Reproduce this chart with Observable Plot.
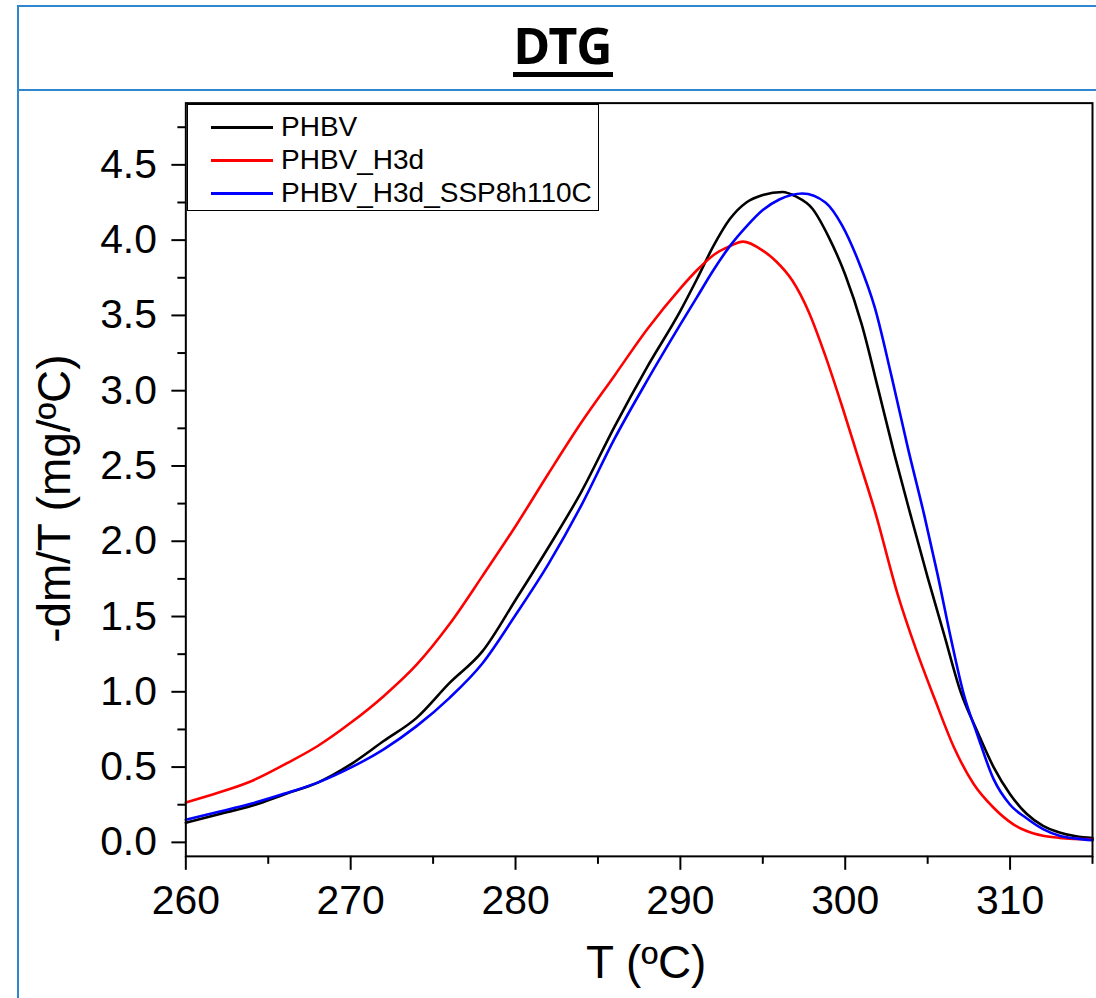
<!DOCTYPE html>
<html>
<head>
<meta charset="utf-8">
<script src="https://cdn.jsdelivr.net/npm/d3@7"></script>
<script src="https://cdn.jsdelivr.net/npm/@observablehq/plot@0.6"></script>
<style>
  html, body { margin: 0; padding: 0; background: #fff; }
  #page { position: relative; width: 1096px; height: 998px; overflow: hidden; font-family: "Liberation Sans", Arial, sans-serif; }
  #titlecell { position: absolute; left: 17px; top: 5px; width: 1200px; height: 82px;
    border-top: 2px solid #2e86d1; border-left: 2px solid #2e86d1; border-bottom: 2px solid #2e86d1; }
  #bodycell { position: absolute; left: 17px; top: 91px; width: 2px; height: 920px; background: #2e86d1; }
  #title { position: absolute; left: 0; width: 1126px; top: 20px; text-align: center;
    font-family: "Noto Sans", "Open Sans", sans-serif; font-weight: 700; font-size: 50px; line-height: 50px;
    letter-spacing: 0px; color: #000; }
  #underline { position: absolute; left: 513px; top: 72px; width: 100px; height: 5px; background: #000; }
  #chart { position: absolute; left: 0; top: 0; }
  #legend { position: absolute; left: 187px; top: 104px; width: 412px; height: 107px; box-sizing: border-box;
    border: 1.5px solid #000; background: #fff; }
  .sw { position: absolute; width: 62px; height: 3px; }
  .lt { position: absolute; font-size: 28px; line-height: 28px; color: #000; white-space: nowrap;
    font-family: "Liberation Sans", Arial, sans-serif; }
</style>
</head>
<body>
<div id="page">
  <div id="titlecell"></div>
  <div id="bodycell"></div>
  <div id="title">DTG</div>
  <div id="underline"></div>
  <div id="chart"></div>
  <div id="legend"></div>
</div>
<script>
// ---- Data ----
const seriesNames = ["PHBV", "PHBV_H3d", "PHBV_H3d_SSP8h110C"];
const seriesColors = ["#000000", "#ff0000", "#0000ff"];

const tPHBV = [260,262,264,266,268,270,272,274,276,278,280,282,284,286,288,290,291,292,293,294,295,296.2,297,298,299,300,301,302,303,304,305,306,307,308,309,310,311,312,313,314,315];
const vPHBV = [0.13,0.187,0.243,0.32,0.397,0.518,0.673,0.827,1.059,1.27,1.61,1.96,2.33,2.76,3.16,3.53,3.74,3.96,4.14,4.25,4.30,4.32,4.29,4.21,4.02,3.77,3.44,3.01,2.57,2.16,1.76,1.38,1.00,0.74,0.50,0.32,0.19,0.11,0.066,0.04,0.028];

const tH3d = [260,262,264,266,268,270,272,274,276,278,280,282,284,286,288,290,291,292,293,293.8,295,295.8,296.8,297.8,298.8,299.8,300.8,301.8,303.2,304.3,305.4,306.6,307.8,309,310.2,311,312,313,315];
const vH3d = [0.265,0.331,0.408,0.518,0.640,0.794,0.971,1.18,1.45,1.77,2.10,2.45,2.79,3.10,3.41,3.68,3.80,3.90,3.96,3.99,3.93,3.86,3.73,3.52,3.23,2.90,2.55,2.20,1.64,1.28,0.96,0.63,0.386,0.23,0.12,0.075,0.044,0.03,0.02];

const tSSP = [260,262,264,266,268,270,272,274,276,278,280,282,284,286,288,290,291,292,293,294,295,296,297.4,298.8,299.8,300.8,301.8,302.8,303.8,304.8,305.6,306.4,307.2,308,309,310,311,312,313,314,315];
const vSSP = [0.15,0.203,0.258,0.324,0.397,0.496,0.618,0.772,0.96,1.19,1.51,1.85,2.24,2.68,3.07,3.44,3.62,3.80,3.96,4.09,4.20,4.27,4.31,4.25,4.10,3.86,3.55,3.10,2.62,2.17,1.78,1.36,0.98,0.72,0.42,0.25,0.16,0.088,0.044,0.025,0.015];

const xTicks = [260, 270, 280, 290, 300, 310];
const xMinorTicks = [265, 275, 285, 295, 305, 315];
const yTicks = [0, 0.5, 1, 1.5, 2, 2.5, 3, 3.5, 4, 4.5];
const yMinorTicks = [0.25, 0.75, 1.25, 1.75, 2.25, 2.75, 3.25, 3.75, 4.25, 4.75];

const xLabel = "T (ºC)";
const yLabel = "-dm/T (mg/ºC)";

// ---- Build table ----
const seriesT = [tPHBV, tH3d, tSSP];
const seriesV = [vPHBV, vH3d, vSSP];
const rows = [];
seriesNames.forEach((name, i) => {
  seriesT[i].forEach((t, j) => rows.push({series: name, T: t, v: seriesV[i][j]}));
});

const chart = Plot.plot({
  width: 1100,
  height: 998,
  marginLeft: 186,
  marginRight: 4,
  marginTop: 103,
  marginBottom: 139,
  x: {domain: [260, 315]},
  y: {domain: [-0.093, 4.91]},
  color: {domain: seriesNames, range: seriesColors},
  style: {fontFamily: "'Liberation Sans', Arial, sans-serif", fontSize: "41px", color: "#000", background: "transparent", overflow: "visible"},
  marks: [
    Plot.axisX({ticks: xTicks, tickSize: 14, tickPadding: 15, strokeWidth: 2, fontSize: 41, tickFormat: d => String(d), label: null}),
    Plot.axisX({ticks: xMinorTicks, tickSize: 8, strokeWidth: 2, tickFormat: () => "", label: null}),
    Plot.axisY({ticks: yTicks, tickSize: 14, tickPadding: 15, strokeWidth: 2, fontSize: 41, tickFormat: d3.format(".1f"), label: null}),
    Plot.axisY({ticks: yMinorTicks, tickSize: 8, strokeWidth: 2, tickFormat: () => "", label: null}),
    Plot.line(rows, {x: "T", y: "v", z: "series", stroke: "series", strokeWidth: 2.6, curve: "monotone-x"}),
    Plot.frame({stroke: "#000", strokeWidth: 2}),
    Plot.text([xLabel], {text: d => d, frameAnchor: "bottom", dx: 7, dy: 122, lineAnchor: "bottom", textAnchor: "middle", fontSize: 46, fill: "#000"}),
    Plot.text([yLabel], {text: d => d, frameAnchor: "left", dx: -116, dy: 19, rotate: -90, lineAnchor: "bottom", textAnchor: "middle", fontSize: 46, fill: "#000"})
  ]
});
document.getElementById("chart").appendChild(chart);

// ---- Legend ----
const legend = document.getElementById("legend");
seriesNames.forEach((name, i) => {
  const yc = 128 + 33 * i - 104;
  const sw = document.createElement("div");
  sw.className = "sw";
  sw.style.left = (210 - 187) + "px";
  sw.style.top = (yc - 1.5 - 1.5) + "px";
  sw.style.background = seriesColors[i];
  legend.appendChild(sw);
  const lt = document.createElement("div");
  lt.className = "lt";
  lt.style.left = (280 - 187) + "px";
  lt.style.top = (yc - 14.7 - 1.5) + "px";
  lt.textContent = name;
  legend.appendChild(lt);
});
</script>
</body>
</html>
